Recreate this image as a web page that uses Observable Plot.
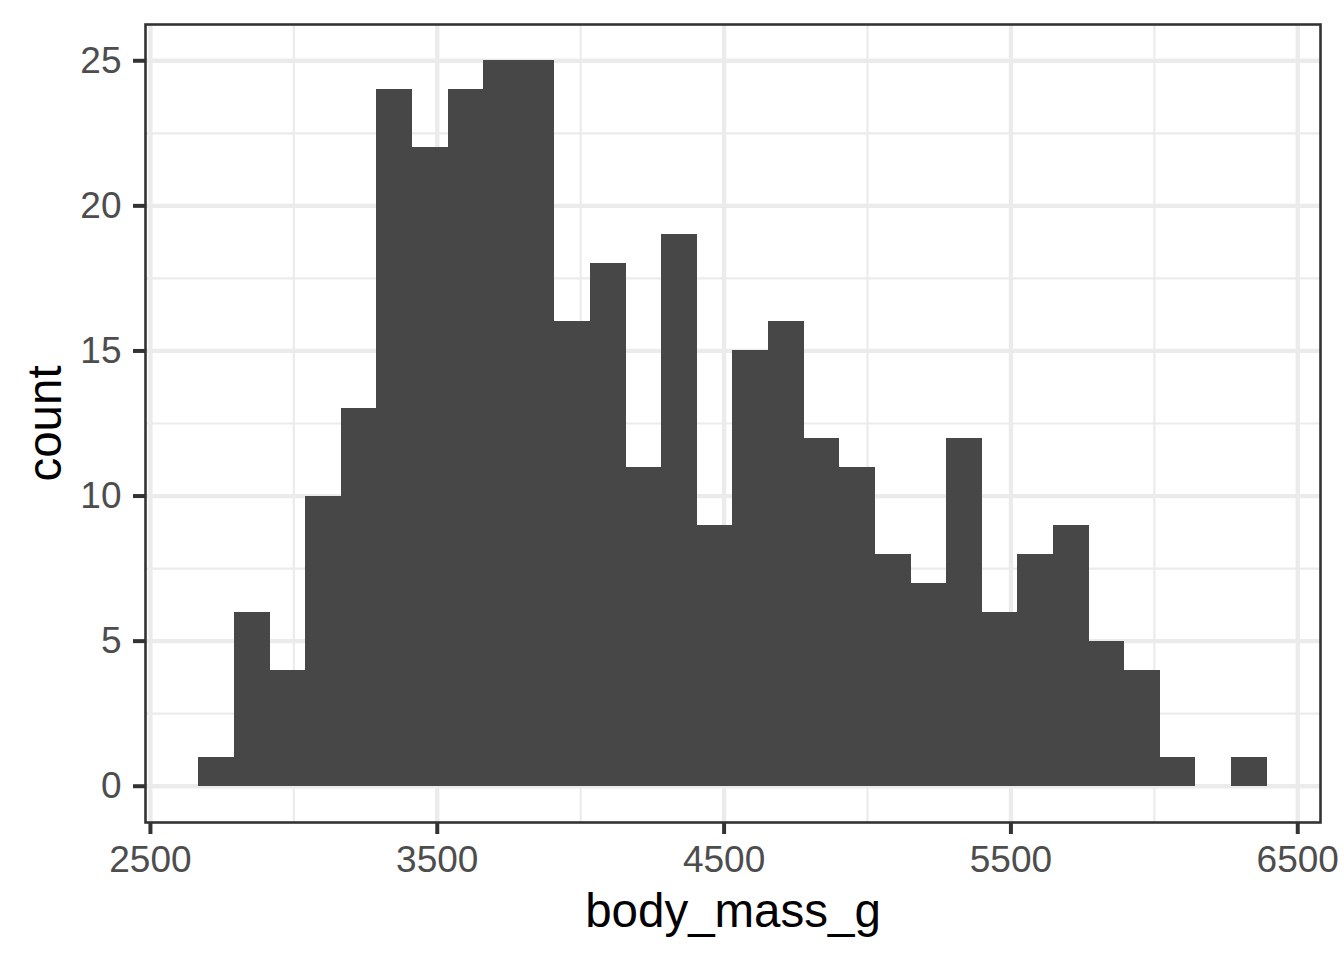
<!DOCTYPE html>
<html>
<head>
<meta charset="utf-8">
<script src="https://cdn.jsdelivr.net/npm/d3@7"></script>
<script src="https://cdn.jsdelivr.net/npm/@observablehq/plot@0.6"></script>
<style>
  html, body { margin: 0; padding: 0; background: #ffffff; }
  #chart svg { display: block; }
</style>
</head>
<body>
<div id="chart"></div>
<script>
// Histogram bin edges (g) and counts
const binEdges = [2669.0, 2793.1, 2917.2, 3041.4, 3165.5, 3289.7, 3413.8, 3537.9, 3662.1, 3786.2,
  3910.3, 4034.5, 4158.6, 4282.8, 4406.9, 4531.0, 4655.2, 4779.3, 4903.4, 5027.6,
  5151.7, 5275.9, 5400.0, 5524.1, 5648.3, 5772.4, 5896.6, 6020.7, 6144.8, 6269.0, 6393.1];
const counts = [1, 6, 4, 10, 13, 24, 22, 24, 25, 25,
  16, 18, 11, 19, 9, 15, 16, 12, 11, 8,
  7, 12, 6, 8, 9, 5, 4, 1, 0, 1];

const xTicks = [2500, 3500, 4500, 5500, 6500];
const xMinor = [3000, 4000, 5000, 6000];
const yTicks = [0, 5, 10, 15, 20, 25];
const yMinor = [2.5, 7.5, 12.5, 17.5, 22.5];
const xTitle = "body_mass_g";
const yTitle = "count";

const bins = counts.map((c, i) => ({x1: binEdges[i], x2: binEdges[i + 1], count: c}));

const font = "'Liberation Sans', Arial, Helvetica, sans-serif";
const gridColor = "#EBEBEB";
const inkColor = "#333333";

const chart = Plot.plot({
  width: 1344,
  height: 960,
  marginLeft: 145,
  marginRight: 24,
  marginTop: 24,
  marginBottom: 138,
  style: {fontFamily: font, background: "#ffffff"},
  x: {domain: [2482.8, 6579.3]},
  y: {domain: [-1.25, 26.25]},
  marks: [
    Plot.ruleX(xMinor, {stroke: gridColor, strokeWidth: 2.2}),
    Plot.ruleY(yMinor, {stroke: gridColor, strokeWidth: 2.2}),
    Plot.ruleX(xTicks, {stroke: gridColor, strokeWidth: 4.3}),
    Plot.ruleY(yTicks, {stroke: gridColor, strokeWidth: 4.3}),
    Plot.rectY(bins, {x1: "x1", x2: "x2", y1: 0, y2: "count", fill: "#474747", inset: 0,
      shapeRendering: "crispEdges"}),
    Plot.frame({stroke: inkColor, strokeWidth: 2.6}),
    Plot.axisX({ticks: xTicks, tickFormat: d => String(d), tickSize: 12, tickPadding: 11,
      stroke: inkColor, strokeWidth: 4, fill: "#4D4D4D", fontSize: 37, label: null}),
    Plot.axisY({ticks: yTicks, tickFormat: d => String(d), tickSize: 12, tickPadding: 12,
      stroke: inkColor, strokeWidth: 4, fill: "#4D4D4D", fontSize: 37, label: null}),
    Plot.text([xTitle], {text: d => d, frameAnchor: "bottom", lineAnchor: "bottom",
      textAnchor: "middle", dy: 104, fontSize: 47.5, fill: "#000000"}),
    Plot.text([yTitle], {text: d => d, frameAnchor: "left", lineAnchor: "bottom",
      textAnchor: "middle", rotate: -90, dx: -85, fontSize: 47.5, fill: "#000000"})
  ]
});
document.getElementById("chart").appendChild(chart);
</script>
</body>
</html>
